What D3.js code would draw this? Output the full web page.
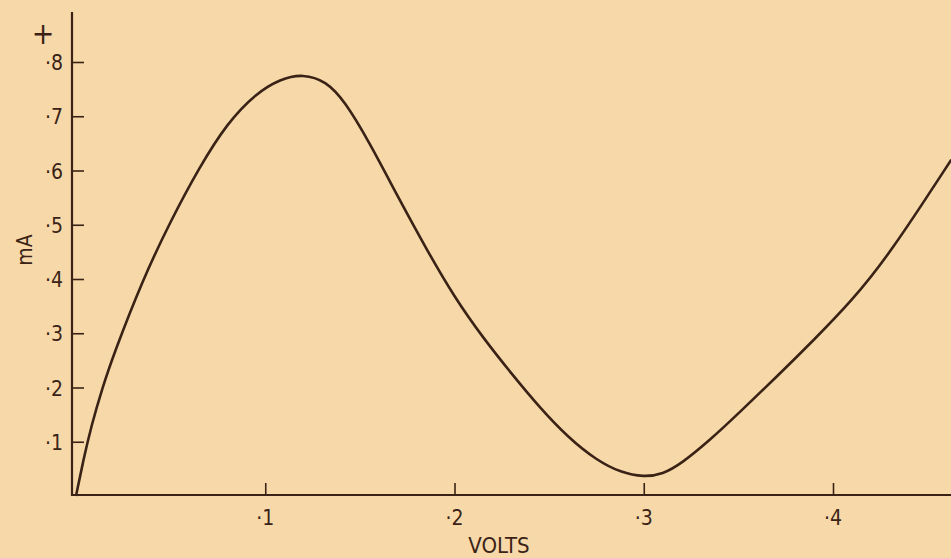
<!DOCTYPE html>
<html>
<head>
<meta charset="utf-8">
<script src="https://cdn.jsdelivr.net/npm/d3@7/dist/d3.min.js"></script>
<style>
  html, body { margin: 0; padding: 0; background: #f7d9a9; }
  svg { display: block; }
  text { font-family: "DejaVu Sans Condensed", "Liberation Sans Narrow", "DejaVu Sans", sans-serif; fill: #3a2316; }
</style>
</head>
<body>
<svg id="chart" width="951" height="558"></svg>
<script>
// Data (volts, mA)
const volts = [0, 0.004, 0.008, 0.014, 0.02, 0.035, 0.05, 0.065, 0.08, 0.095, 0.108, 0.12, 0.132, 0.142,
  0.155, 0.17, 0.185, 0.20, 0.215, 0.23, 0.245, 0.26, 0.275, 0.288, 0.30,
  0.31, 0.32, 0.335, 0.35, 0.37, 0.39, 0.41, 0.43, 0.4625];
const milliamps = [0, 0.068, 0.128, 0.200, 0.262, 0.397, 0.507, 0.605, 0.688, 0.742, 0.769, 0.778, 0.765, 0.728,
  0.652, 0.552, 0.456, 0.366, 0.292, 0.226, 0.163, 0.108, 0.066, 0.043, 0.035,
  0.040, 0.060, 0.103, 0.152, 0.219, 0.288, 0.36, 0.446, 0.62];
const xTicks = [0.1, 0.2, 0.3, 0.4];
const yTicks = [0.1, 0.2, 0.3, 0.4, 0.5, 0.6, 0.7, 0.8];
const xTickLabels = ["·1", "·2", "·3", "·4"];
const yTickLabels = ["·1", "·2", "·3", "·4", "·5", "·6", "·7", "·8"];
const xTitle = "VOLTS";
const yTitle = "mA";

const ink = "#3a2316";
const svg = d3.select("#chart");

const x = d3.scaleLinear().domain([0, 0.4]).range([76, 833]);
const y = d3.scaleLinear().domain([0, 0.8]).range([496, 62]);

const axisX = 72, axisY = 495;

// y axis
const gy = svg.append("g").attr("transform", `translate(${axisX},0)`);
gy.call(d3.axisRight(y).tickValues(yTicks).tickSize(12).tickFormat(""));
gy.select(".domain").remove();
gy.selectAll(".tick line").attr("stroke", ink).attr("stroke-width", 1.6);
gy.append("line").attr("x1", 0).attr("x2", 0).attr("y1", 12).attr("y2", axisY + 1)
  .attr("stroke", ink).attr("stroke-width", 2.2);
svg.append("g").selectAll("text").data(yTicks).join("text")
  .attr("x", axisX - 9).attr("y", d => y(d) + 8)
  .attr("text-anchor", "end").attr("font-size", 21)
  .text((d, i) => yTickLabels[i]);

// x axis
const gx = svg.append("g").attr("transform", `translate(0,${axisY})`);
gx.call(d3.axisTop(x).tickValues(xTicks).tickSize(12).tickFormat(""));
gx.select(".domain").remove();
gx.selectAll(".tick line").attr("stroke", ink).attr("stroke-width", 1.6);
gx.append("line").attr("x1", axisX - 1).attr("x2", 951).attr("y1", 0).attr("y2", 0)
  .attr("stroke", ink).attr("stroke-width", 2.2);
svg.append("g").selectAll("text").data(xTicks).join("text")
  .attr("x", d => x(d)).attr("y", axisY + 30)
  .attr("text-anchor", "middle").attr("font-size", 21)
  .text((d, i) => xTickLabels[i]);

// titles
svg.append("text").attr("x", 499).attr("y", 553).attr("text-anchor", "middle")
  .attr("font-size", 22).text(xTitle);
svg.append("text").attr("transform", "translate(32,250) rotate(-90)")
  .attr("text-anchor", "middle").attr("font-size", 21).text(yTitle);
svg.append("text").attr("x", 43).attr("y", 44).attr("text-anchor", "middle")
  .attr("font-size", 30).text("+");

// curve
const pts = volts.map((v, i) => [v, milliamps[i]]);
svg.append("path").datum(pts)
  .attr("fill", "none").attr("stroke", ink).attr("stroke-width", 2.6)
  .attr("stroke-linejoin", "round")
  .attr("d", d3.line().x(d => x(d[0])).y(d => y(d[1])).curve(d3.curveBasis));
</script>
</body>
</html>
